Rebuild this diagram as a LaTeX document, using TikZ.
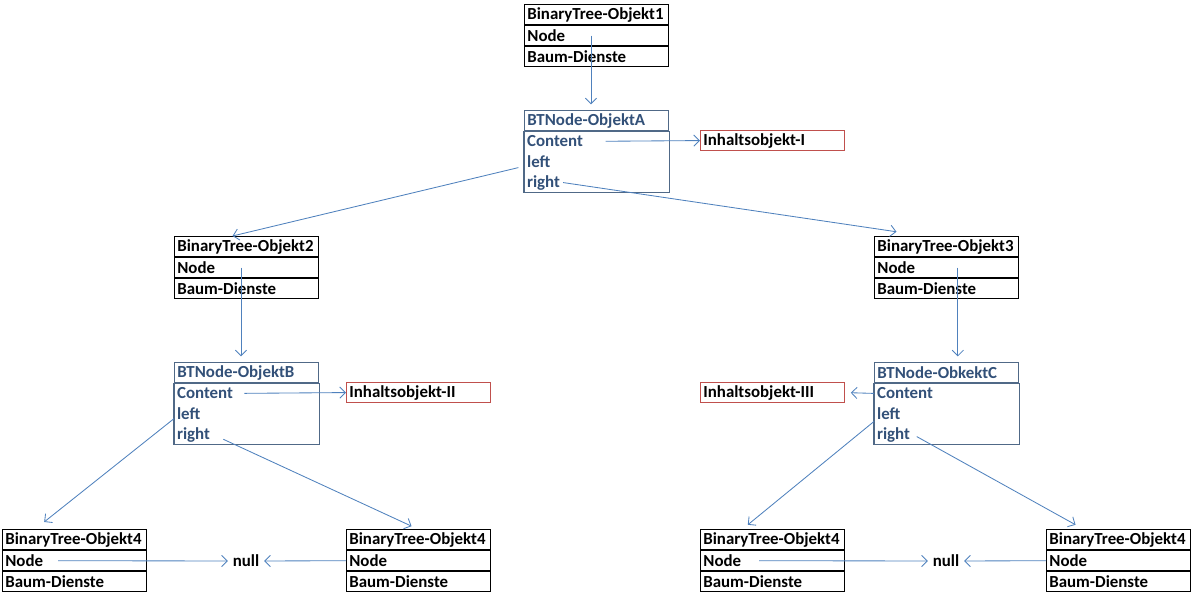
\documentclass[tikz,border=0pt]{standalone}
\usepackage{fontspec}
\setmainfont{Carlito}
\usepackage{xcolor}
\usetikzlibrary{arrows.meta,positioning,calc}

\definecolor{linkblue}{RGB}{79,129,189}
\definecolor{nodeblue}{RGB}{50,80,120}
\definecolor{boxblue}{RGB}{80,105,135}
\definecolor{boxred}{RGB}{192,80,77}

\begin{document}
\begin{tikzpicture}[x=0.025cm,y=-0.025cm,font=\bfseries\fontsize{12}{12.5}\selectfont]
  \tikzset{row/.style = {draw, line width=0.8pt, text width=3.46cm, minimum height=0.5cm,
      inner xsep=2pt, inner ysep=0pt, align=left}}
  \tikzset{field/.style = {text=nodeblue, minimum height=0.5cm, inner xsep=2pt, inner ysep=0pt}}
  \tikzset{link/.style = {linkblue, line width=0.6pt, -{Straight Barb[length=4pt,width=8pt]}}}

  \useasboundingbox (0,0) rectangle (1192,596);

  % tree objects
  \foreach \n/\x/\y/\t in {bt1/524/4/1, bt2/174/236/2, bt3/874/236/3,
      bt4a/2/529/4, bt4b/346/529/4, bt4c/700/529/4, bt4d/1046/529/4}
  {
    \node[row, anchor=north west] (\n) at (\x,\y) {BinaryTree-Objekt\t};
    \node[row, below=0pt of \n] (\n-node) {Node};
    \node[row, below=0pt of \n-node] (\n-dienst) {Baum-Dienste};
  }

  % node objects
  \foreach \n/\x/\y/\t in {ba/524/110/ObjektA, bb/174/362/ObjektB, bc/874/362/ObkektC}
  {
    \node[row, draw=boxblue, text=nodeblue, anchor=north west] (\n) at (\x,\y) {BTNode-\t};
    \node[field, anchor=north west] (\n-content) at (\n.south west) {Content};
    \node[field, anchor=north west] (\n-left) at (\n-content.south west) {left};
    \node[field, anchor=north west] (\n-right) at (\n-left.south west) {right};
    \draw[boxblue, line width=0.8pt] (\n.south west) rectangle (\n-right.south -| \n.east);
  }

  % contents
  \node[row, draw=boxred, anchor=north west] (ia) at (700,130) {Inhaltsobjekt-I};
  \node[row, draw=boxred, anchor=north west] (ib) at (346,382) {Inhaltsobjekt-II};
  \node[row, draw=boxred, anchor=north west] (ic) at (700,382) {Inhaltsobjekt-III};

  \node (null1) at (246,561) {null};
  \node (null2) at (946,561) {null};

  % tree -> node
  \foreach \a/\b/\s in {bt1/ba/-4pt, bt2/bb/-4pt, bt3/bc/8pt}
  {
    \draw[link] ([xshift=\s]\a-node.center) -- ([xshift=\s,yshift=4pt]\b.north);
  }

  % content links
  \draw[link, shorten <=14pt] (ba-content.east) -- (ia.west);
  \draw[link, shorten <=6pt] (bb-content.east) -- (ib.west);
  \draw[link, shorten >=4pt] (bc-content.west) -- (ic.east);

  % left / right
  \draw[link] ([xshift=-4pt,yshift=-4pt]ba-left.west) -- ([xshift=-10pt]bt2.north);
  \draw[link] (ba-right.east) -- ([xshift=16pt,yshift=3pt]bt3.north west);
  \draw[link] ([yshift=4pt]bb-left.south west) -- ([xshift=30pt,yshift=5pt]bt4a.north west);
  \draw[link, shorten <=8pt] (bb-right.east) -- ([xshift=-5pt,yshift=2pt]bt4b.north);
  \draw[link] ([yshift=2pt]bc-left.south west) -- ([xshift=34pt,yshift=3pt]bt4c.north west);
  \draw[link, shorten <=3pt] (bc-right.east) -- ([xshift=21pt,yshift=3pt]bt4d.north west);

  % null links
  \draw[link] ([xshift=40pt]bt4a-node.west) -- (null1.west);
  \draw[link] (bt4b-node.west) -- (null1.east);
  \draw[link] ([xshift=42pt]bt4c-node.west) -- (null2.west);
  \draw[link] (bt4d-node.west) -- (null2.east);
\end{tikzpicture}
\end{document}
